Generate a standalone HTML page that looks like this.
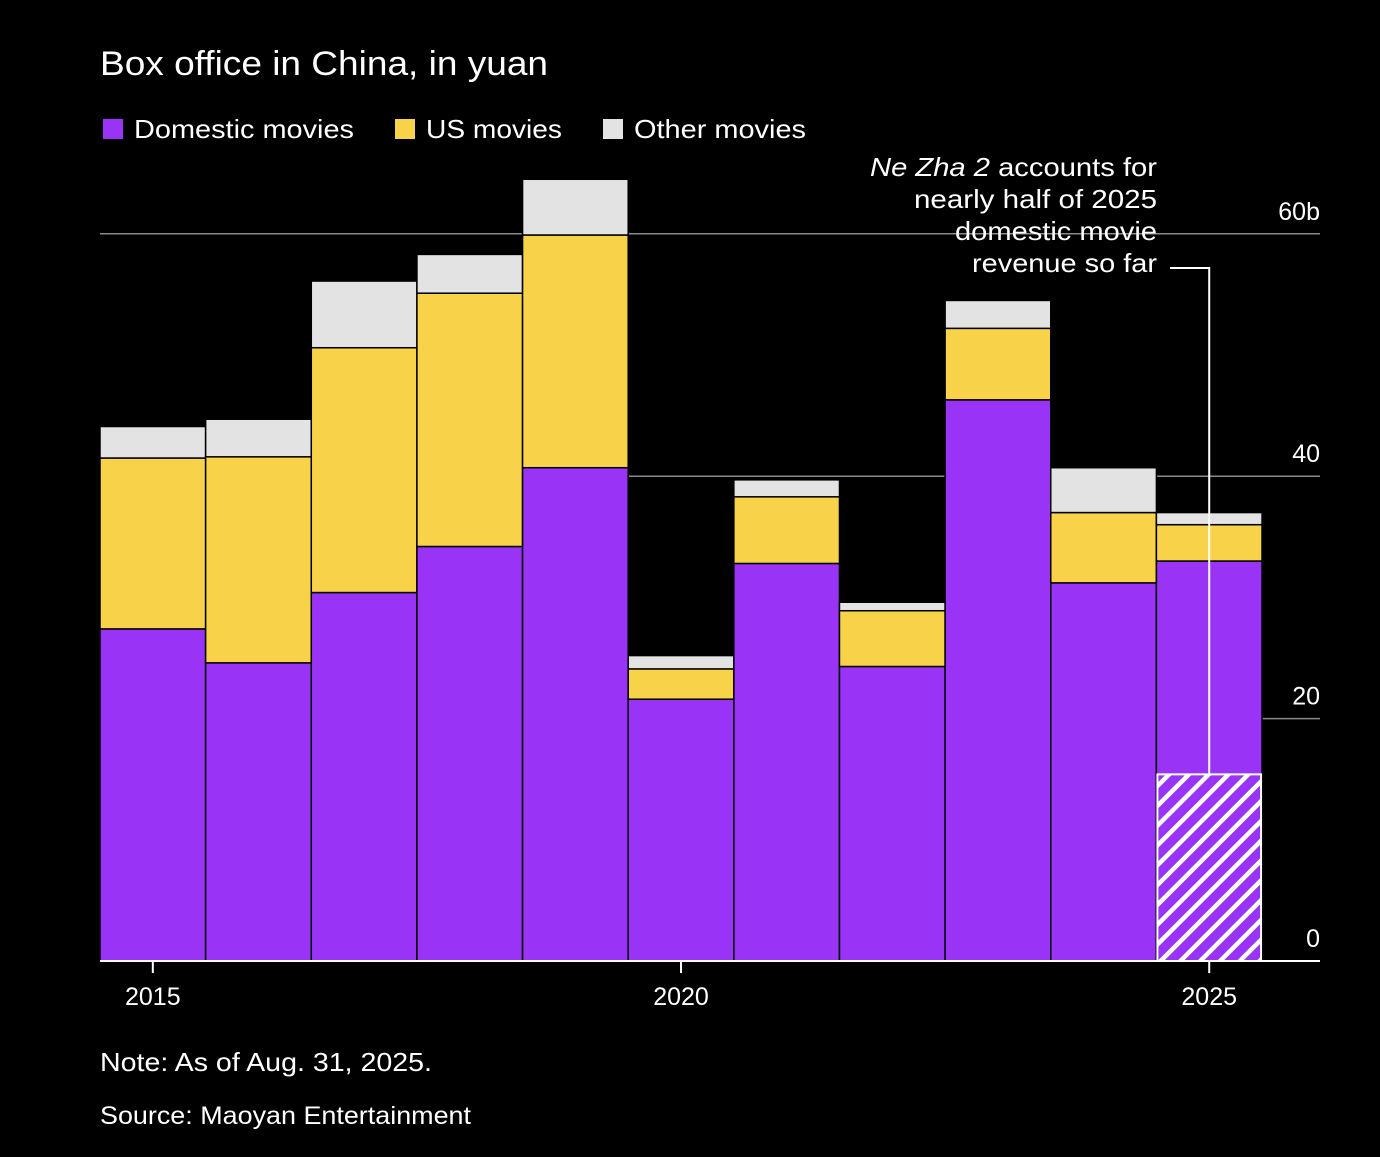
<!DOCTYPE html>
<html><head><meta charset="utf-8"><style>
html,body{margin:0;padding:0;background:#000;}
body{width:1380px;height:1152px;overflow:hidden;font-family:"Liberation Sans",sans-serif;color:#fff;}
</style></head><body>
<svg width="1380" height="1152" viewBox="0 0 1380 1152" xmlns="http://www.w3.org/2000/svg" font-family="Liberation Sans, sans-serif">
<defs>
<pattern id="hatch" patternUnits="userSpaceOnUse" width="14" height="14" patternTransform="rotate(45)">
<rect width="14" height="14" fill="#9933f5"/>
<rect x="0" y="0" width="4.5" height="14" fill="#fff"/>
</pattern>
</defs>
<text x="100" y="75" font-size="34" fill="#fff" textLength="448" lengthAdjust="spacingAndGlyphs">Box office in China, in yuan</text>
<g>
<rect x="103" y="119" width="20" height="20" fill="#9933f5"/>
<text x="134" y="138" font-size="26" fill="#fff" textLength="220" lengthAdjust="spacingAndGlyphs">Domestic movies</text>
<rect x="395" y="119" width="20" height="20" fill="#f8d248"/>
<text x="426" y="138" font-size="26" fill="#fff" textLength="136" lengthAdjust="spacingAndGlyphs">US movies</text>
<rect x="603" y="119" width="20" height="20" fill="#e3e3e3"/>
<text x="634" y="138" font-size="26" fill="#fff" textLength="172" lengthAdjust="spacingAndGlyphs">Other movies</text>
</g>
<g id="grid"></g>
<g id="bars"></g>
<g id="axis"></g>
<g font-size="26" fill="#fff">
<text x="870" y="176" textLength="287" lengthAdjust="spacingAndGlyphs"><tspan font-style="italic">Ne Zha 2</tspan> accounts for</text>
<text x="914" y="208" textLength="243" lengthAdjust="spacingAndGlyphs">nearly half of 2025</text>
<text x="955" y="240" textLength="202" lengthAdjust="spacingAndGlyphs">domestic movie</text>
<text x="972" y="272" textLength="185" lengthAdjust="spacingAndGlyphs">revenue so far</text>
</g>
<polyline id="connector" fill="none" stroke="#fff" stroke-width="2"/>
<text x="100" y="1071" font-size="26" fill="#fff" textLength="332" lengthAdjust="spacingAndGlyphs">Note: As of Aug. 31, 2025.</text>
<text x="100" y="1124" font-size="25" fill="#fff" textLength="371" lengthAdjust="spacingAndGlyphs">Source: Maoyan Entertainment</text>
</svg>
<script>
const years = [2015,2016,2017,2018,2019,2020,2021,2022,2023,2024,2025];
const domestic = [27.4,24.6,30.4,34.2,40.7,21.6,32.8,24.3,46.3,31.2,33.0];
const usMovies = [14.1,17.0,20.2,20.9,19.2,2.5,5.5,4.6,5.9,5.8,3.0];
const otherMovies = [2.6,3.1,5.5,3.2,4.6,1.1,1.4,0.7,2.3,3.7,1.0];
const neZha = 15.4;
const yTicks = [0,20,40,60];
const yTickLabels = ["0","20","40","60b"];
const xTickYears = [2015,2020,2025];

const NS="http://www.w3.org/2000/svg";
const y0=961, pxPer=12.12;
const yS=v=>y0-v*pxPer;
const xL=100, bw=105.64;
const xS=yr=>xL+(yr-2015)*bw;
function mk(tag,attrs,parent){const e=document.createElementNS(NS,tag);for(const k in attrs)e.setAttribute(k,attrs[k]);parent.appendChild(e);return e;}
const grid=document.getElementById('grid'),bars=document.getElementById('bars'),axis=document.getElementById('axis');
yTicks.forEach((t,i)=>{
  if(t>0){const l=mk('line',{x1:100,x2:1320,y1:yS(t),y2:yS(t),stroke:'#8a8a8a','stroke-width':1.5},grid);
  
  }
  const tx=mk('text',{x:1320,y:yS(t)-14,'font-size':25,fill:'#fff','text-anchor':'end'},grid);
  tx.textContent=yTickLabels[i];
  
  
});
years.forEach((yr,i)=>{
  const x=xS(yr);
  const segs=[[domestic[i],'#9933f5','domestic'],[usMovies[i],'#f8d248','us'],[otherMovies[i],'#e3e3e3','other']];
  let base=0;
  segs.forEach(s=>{
    const r=mk('rect',{x:x,y:yS(base+s[0]),width:bw,height:s[0]*pxPer,fill:s[1],stroke:'#000','stroke-width':1.5},bars);
    
    
    base+=s[0];
  });
});
const hx=xS(2025);
const h=mk('rect',{x:hx+1,y:yS(neZha),width:bw-2,height:neZha*pxPer,fill:'url(#hatch)',stroke:'#fff','stroke-width':2},bars);


const cx=hx+bw/2;
document.getElementById('connector').setAttribute('points',`1170,268 ${cx},268 ${cx},${yS(neZha)}`);
const bl=mk('line',{x1:100,x2:1320,y1:y0,y2:y0,stroke:'#fff','stroke-width':2},axis);


xTickYears.forEach(yr=>{
  const x=xS(yr)+bw/2;
  const t=mk('line',{x1:x,x2:x,y1:y0,y2:y0+12,stroke:'#fff','stroke-width':2},axis);
  
  
  const tx=mk('text',{x:x,y:y0+44,'font-size':25,fill:'#fff','text-anchor':'middle'},axis);
  tx.textContent=yr;
  
  
});
</script>
</body></html>
